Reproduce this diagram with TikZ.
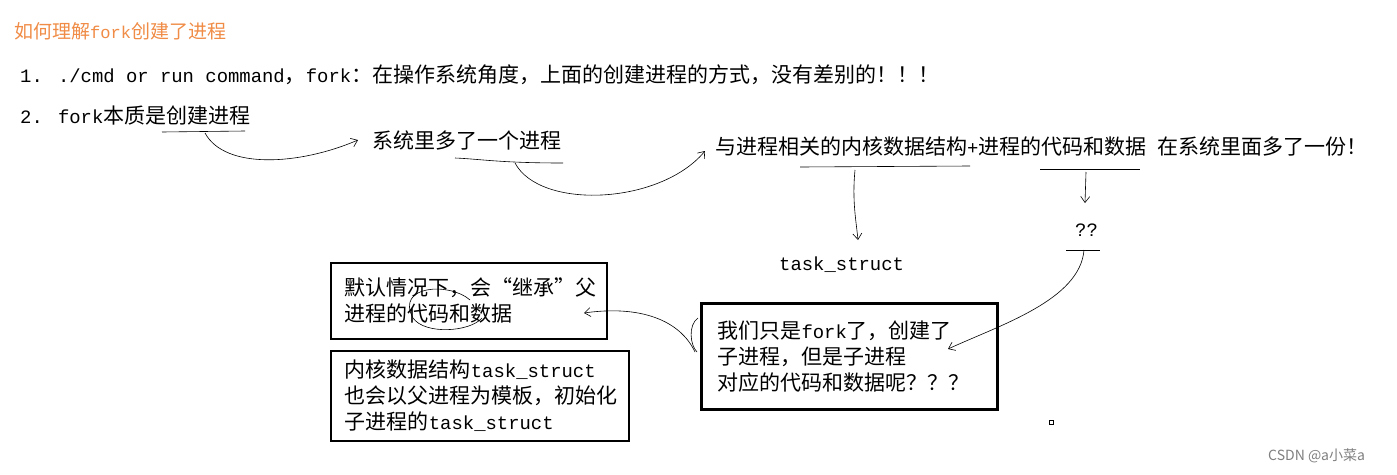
\documentclass[tikz,border=0pt]{standalone}
\usepackage{fontspec}
\setmainfont{Noto Sans CJK SC}
\newfontfamily\mo{Liberation Mono}[Scale=0.9]
\newcommand{\lm}[1]{{\mo #1}}
\usetikzlibrary{arrows.meta}
\definecolor{org}{RGB}{240,140,70}
\tikzset{txt/.style={anchor=west,inner sep=0pt,font=\fontsize{21}{26}\selectfont},
 pen/.style={line width=0.6pt,-{Straight Barb[length=6pt,width=9pt]}},
 ul/.style={line width=0.6pt},
 boxn/.style={draw,line width=1.8pt,anchor=north west,align=left,inner xsep=14pt,inner ysep=8pt,font=\fontsize{21}{26}\selectfont}}
\begin{document}
\begin{tikzpicture}[x=1pt,y=-1pt]
\useasboundingbox[fill=white] (0,0) rectangle (1397,474);
\node[txt,text=org,font=\fontsize{19}{22}\selectfont] (title) at (14,31) {如何理解\lm{fork}创建了进程};
\node[txt] (l1) at (20,75) {\lm{1. ./cmd or run command}，\lm{fork}：在操作系统角度，上面的创建进程的方式，没有差别的！！！};
\node[txt] (l2) at (20,116) {\lm{2. fork}本质是创建进程};
\node[txt] (s1) at (372,140) {系统里多了一个进程};
\node[txt] (s2) at (715,147) {与进程相关的内核数据结构\lm{+}进程的代码和数据\lm{ }在系统里面多了一份！};
\node[txt] (ts) at (779,265) {\lm{task\_struct}};
\node[txt] (qq) at (1075,230) {\lm{??}};
\node[boxn,text width=248pt,minimum height=76pt] (ba) at (330,262) {默认情况下，会“继承”父\\进程的代码和数据};
\node[boxn,text width=270pt,minimum height=90pt,inner ysep=6pt] (bb) at (330,350) {内核数据结构\lm{task\_struct}\\也会以父进程为模板，初始化\\子进程的\lm{task\_struct}};
\node[boxn,line width=3pt,text width=264pt,minimum height=106pt,inner xsep=16pt,inner ysep=10pt] (bc) at (700,302) {我们只是\lm{fork}了，创建了\\子进程，但是子进程\\对应的代码和数据呢？？？};
\node[txt,text=gray,font=\fontsize{14}{16}\selectfont] (csdn) at (1268,456) {CSDN @a小菜a};
\node[draw,line width=0.8pt,minimum size=4pt,inner sep=0pt] (sq) at (1051,422) {};
\draw[ul] (162,132) -- (245,131);
\coordinate (a1) at (358,140);
\draw[pen] (205,133) .. controls (225,170) and (300,165) .. (a1);
\draw[ul] (455,158) .. controls (480,159) and (500,163) .. (563,163);
\coordinate (a2) at (705,151);
\draw[pen] (515,163) .. controls (540,210) and (660,205) .. (a2);
\draw[ul] (800,167) -- (970,166);
\coordinate (a3) at (858,240);
\draw[pen] (855,170) .. controls (852,200) and (856,220) .. (a3);
\draw[ul] (1040,169) -- (1140,169);
\coordinate (a4) at (1085,203);
\draw[pen] (1086,172) -- (a4);
\draw[ul] (1066,250) -- (1100,250);
\coordinate (a5) at (948,349);
\draw[pen] (1084,250) .. controls (1080,300) and (1000,325) .. (a5);
\coordinate (a6) at (584,313);
\draw[pen] (695,352) .. controls (680,320) and (640,305) .. (a6);
\draw[ul] (698,318) .. controls (688,325) and (690,345) .. (697,352);
\draw[ul] (470,300) .. controls (450,282) and (395,285) .. (413,318) .. controls (425,335) and (470,332) .. (482,318);
\end{tikzpicture}
\end{document}
